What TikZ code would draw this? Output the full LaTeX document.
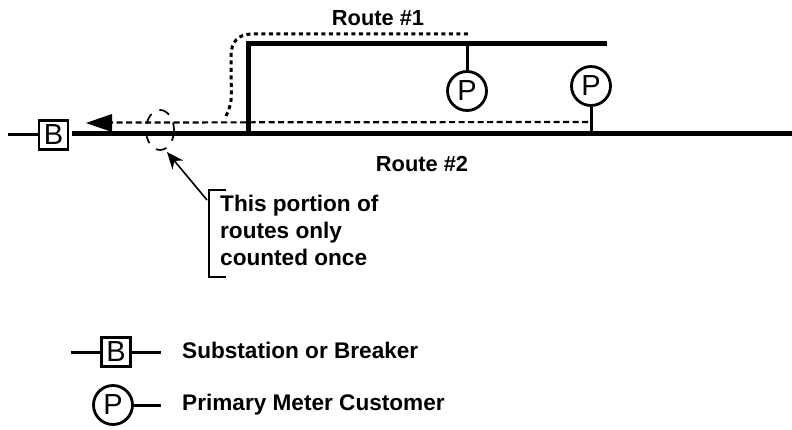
\documentclass[tikz,border=0pt]{standalone}
\usepackage{fontspec}
\setmainfont{Liberation Sans}
\usetikzlibrary{arrows.meta}
\tikzset{
 lab/.style={font=\fontsize{22.6}{27}\selectfont\bfseries,inner sep=0pt,align=left},
 routelab/.style={font=\fontsize{21.8}{27}\selectfont\bfseries,inner sep=0pt},
 sym/.style={font=\fontsize{29}{29}\selectfont,inner sep=0pt,draw,line width=2.8pt,fill=white,text=black},
 brk/.style={sym,minimum size=29pt},
 pm/.style={sym,circle,minimum size=39pt},
 heavy/.style={line width=5pt},
 wire/.style={line width=3pt},
 dots/.style={line width=3pt,dash pattern=on 4pt off 3.5pt},
 dash1/.style={line width=2.2pt,dash pattern=on 6pt off 3.5pt},
 ring/.style={line width=1.7pt,dash pattern=on 11pt off 9pt}
}
\begin{document}
\begin{tikzpicture}[x=1pt,y=-1pt]
\useasboundingbox (0,0) rectangle (792,430);
% circuit
\coordinate (stubL) at (8,135);
\coordinate (lineR) at (792,133.5);
\coordinate (busA) at (72,133.5);
\coordinate (tee) at (248,133.5);
\coordinate (corner) at (248,44);
\coordinate (topR) at (607,44);
\coordinate (tap1) at (467,44);
\coordinate (tap2) at (591,133.5);
\draw[heavy] (busA) -- (lineR);
\draw[heavy,line join=miter] (tee) -- (corner) -- (topR);
\node[brk] (B1) at (53.5,135) {B};
\draw[wire] (stubL) -- (B1);
\node[pm] (P1) at (467,91) {P};
\node[pm] (P2) at (591,86) {P};
\draw[wire] (tap1) -- (P1);
\draw[wire] (tap2) -- (P2);
% routes
\coordinate (dashR) at (588,122);
\coordinate (tip) at (86,123);
\coordinate (baseT) at (112,114);
\coordinate (baseB) at (112,132);
\coordinate (baseM) at (112,122.5);
\draw[dash1] (dashR) -- (baseM);
\fill (tip) -- (baseT) -- (baseB) -- cycle;
\coordinate (r1s) at (226,116);
\coordinate (r1e) at (470,34);
\draw[dots] (r1s) .. controls (232,104) and (232,96) .. (231,80) -- (231,56) .. controls (231,42) and (238,34) .. (252,34) -- (r1e);
% ring and pointer
\coordinate (ringC) at (160,130);
\draw[ring] (ringC) ellipse [x radius=14, y radius=20];
\coordinate (ptrS) at (207,200);
\coordinate (ptrE) at (167,152);
\draw[line width=1.6pt,-{Stealth[length=17pt,width=14pt]}] (ptrS) -- (ptrE);
% bracket
\coordinate (bt) at (226,190);
\coordinate (bb) at (226,277);
\draw[line width=1.6pt] (bt) -- (209,190) -- (209,277) -- (bb);
% labels
\node[routelab] (r1) at (378,18) {Route \#1};
\node[routelab] (r2) at (422,164) {Route \#2};
\node[lab,anchor=north west] (note) at (220,195) {This portion of\\routes only\\counted once};
% legend
\node[brk] (B2) at (116,352) {B};
\coordinate (ls1) at (71,352);
\coordinate (ls2) at (161,352);
\draw[wire] (ls1) -- (B2) -- (ls2);
\node[pm] (P3) at (113,405) {P};
\coordinate (ls3) at (161,405);
\draw[wire] (P3) -- (ls3);
\node[lab,anchor=west] (t1) at (182,350) {Substation or Breaker};
\node[lab,anchor=west] (t2) at (182,405) {Primary Meter Customer};
\end{tikzpicture}
\end{document}
